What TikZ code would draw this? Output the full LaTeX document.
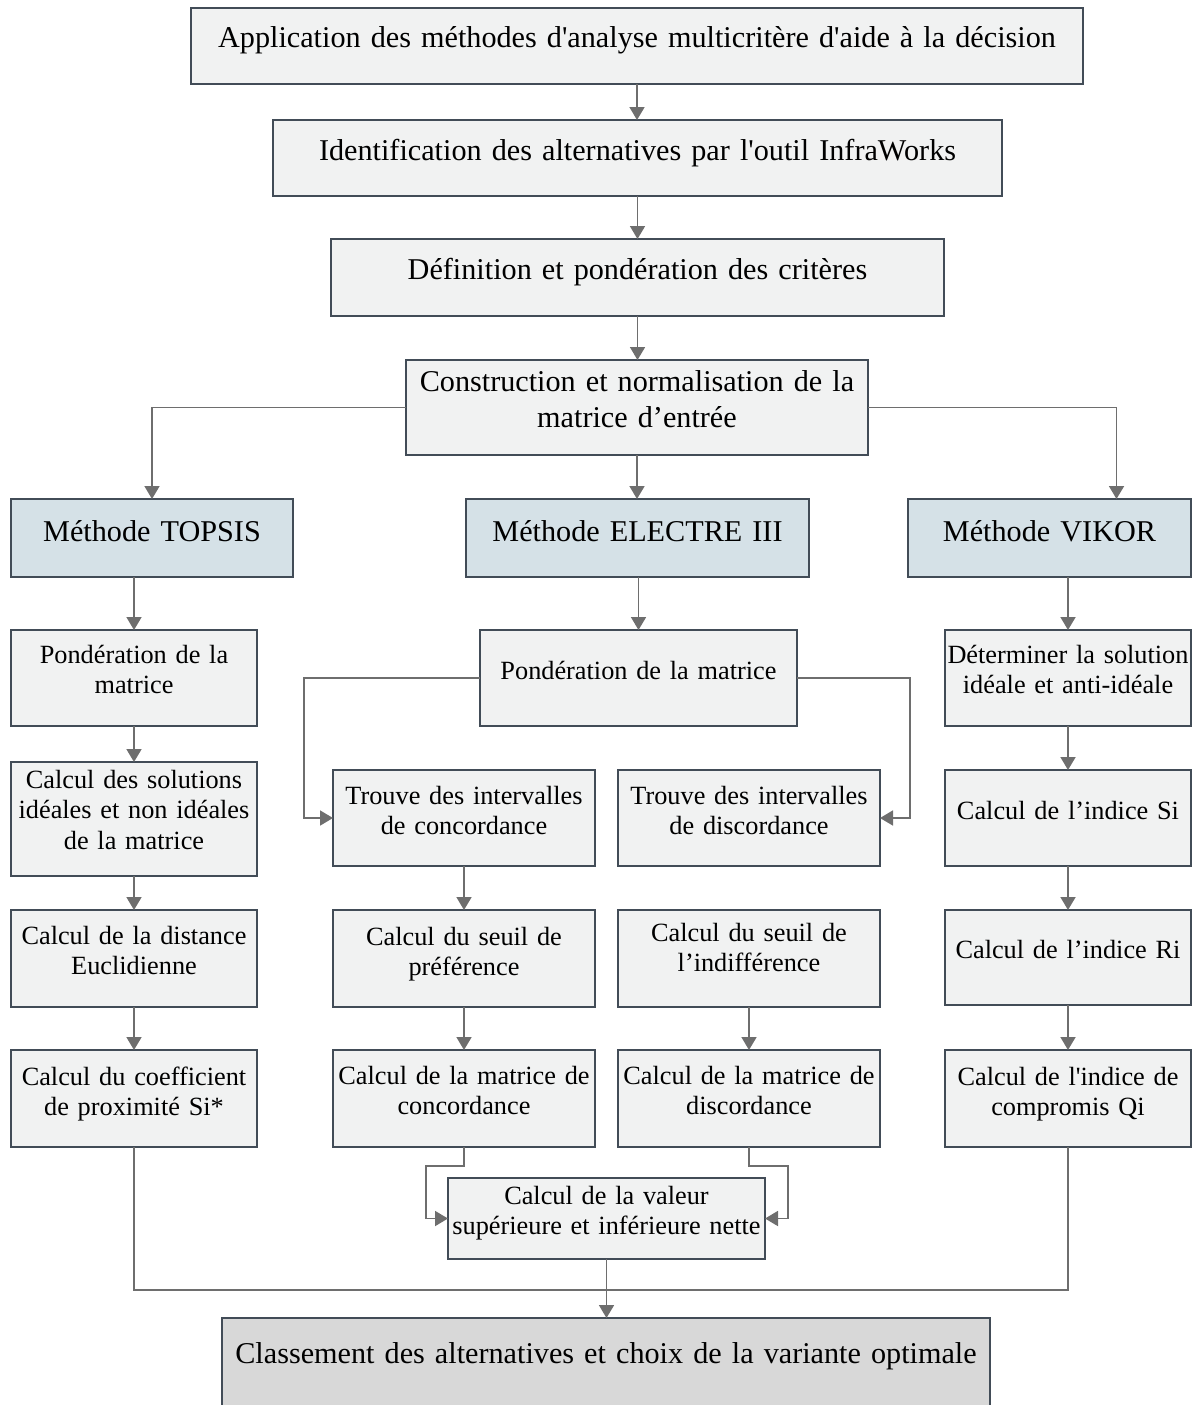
\documentclass[tikz,border=0pt]{standalone}
\usepackage{fontspec}
\setmainfont{Liberation Serif}[Ligatures=TeXOff]
\usetikzlibrary{arrows.meta,calc}

\definecolor{boxline}{HTML}{424C57}
\definecolor{boxfill}{HTML}{F1F2F2}
\definecolor{methfill}{HTML}{D5E1E7}
\definecolor{endfill}{HTML}{D8D8D8}
\definecolor{linkcol}{HTML}{6E6E6E}

\newcommand\bigtxt{\fontsize{30.2}{36.7}\selectfont}
\newcommand\smalltxt{\fontsize{26.3}{30.6}\selectfont}

% \flowbox{name}{style}{x1}{y1}{x2}{y2}{first baseline}{font}{text}
\newcommand\flowbox[9]{%
  \node[#2, minimum width={#5-#3}, minimum height={#6-#4}]
    (#1) at ({(#3+#5)/2},{(#4+#6)/2}) {};
  \node[txt, font=#8, text width={#5-#3+60}]
    (#1-t) at ({(#3+#5)/2},#7) {#9};
}

\tikzset{
  box/.style={draw=boxline, line width=2.8pt, fill=boxfill,
    rectangle, inner sep=0pt, outer sep=0pt},
  methbox/.style={box, fill=methfill},
  endbox/.style={box, fill=endfill},
  txt/.style={anchor=base, align=center, inner sep=0pt, text=black},
  link/.style={draw=linkcol, line width=1.8pt},
  conn/.style={link, -{Triangle[width=15pt,length=13pt]}},
}

\begin{document}
\begin{tikzpicture}[x=1pt,y=-1pt]
\useasboundingbox (0,0) rectangle (1200,1405);

% main sequence
\flowbox{A}{box}{191}{8}{1083}{84}{48}{\bigtxt}{Application des méthodes d'analyse multicritère d'aide à la décision}
\flowbox{B}{box}{273}{120}{1002}{196}{160}{\bigtxt}{Identification des alternatives par l'outil InfraWorks}
\flowbox{C}{box}{331}{239}{944}{316}{279}{\bigtxt}{Définition et pondération des critères}
\flowbox{D}{box}{406}{360}{868}{455}{391}{\bigtxt}{Construction et normalisation de la\\matrice d’entrée}

% methods
\flowbox{TOP}{methbox}{11}{499}{293}{577}{541}{\bigtxt}{Méthode TOPSIS}
\flowbox{ELE}{methbox}{466}{499}{809}{577}{541}{\bigtxt}{Méthode ELECTRE III}
\flowbox{VIK}{methbox}{908}{499}{1191}{577}{541}{\bigtxt}{Méthode VIKOR}

% TOPSIS steps
\flowbox{T1}{box}{11}{630}{257}{726}{663}{\smalltxt}{Pondération de la\\matrice}
\flowbox{T2}{box}{11}{762}{257}{876}{788}{\smalltxt}{Calcul des solutions\\idéales et non idéales\\de la matrice}
\flowbox{T3}{box}{11}{910}{257}{1007}{944}{\smalltxt}{Calcul de la distance\\Euclidienne}
\flowbox{T4}{box}{11}{1050}{257}{1147}{1085}{\smalltxt}{Calcul du coefficient\\de proximité Si*}

% ELECTRE III steps
\flowbox{E1}{box}{480}{630}{797}{726}{679}{\smalltxt}{Pondération de la matrice}
\flowbox{E2}{box}{333}{770}{595}{866}{804}{\smalltxt}{Trouve des intervalles\\de concordance}
\flowbox{E3}{box}{618}{770}{880}{866}{804}{\smalltxt}{Trouve des intervalles\\de discordance}
\flowbox{E4}{box}{333}{910}{595}{1007}{945}{\smalltxt}{Calcul du seuil de\\préférence}
\flowbox{E5}{box}{618}{910}{880}{1007}{941}{\smalltxt}{Calcul du seuil de\\l’indifférence}
\flowbox{E6}{box}{333}{1050}{595}{1147}{1084}{\smalltxt}{Calcul de la matrice de\\concordance}
\flowbox{E7}{box}{618}{1050}{880}{1147}{1084}{\smalltxt}{Calcul de la matrice de\\discordance}
\flowbox{E8}{box}{448}{1178}{765}{1259}{1204}{\smalltxt}{Calcul de la valeur\\supérieure et inférieure nette}

% VIKOR steps
\flowbox{V1}{box}{945}{630}{1191}{726}{663}{\smalltxt}{Déterminer la solution\\idéale et anti-idéale}
\flowbox{V2}{box}{945}{770}{1191}{866}{819}{\smalltxt}{Calcul de l’indice Si}
\flowbox{V3}{box}{945}{910}{1191}{1005}{958}{\smalltxt}{Calcul de l’indice Ri}
\flowbox{V4}{box}{945}{1050}{1191}{1147}{1085}{\smalltxt}{Calcul de l'indice de\\compromis Qi}

% final ranking
\flowbox{F}{endbox}{222}{1318}{990}{1418}{1363}{\bigtxt}{Classement des alternatives et choix de la variante optimale}

% connectors: main sequence
\draw[conn] (A.south) -- (A.south |- B.north);
\draw[conn] (B.south) -- (B.south |- C.north);
\draw[conn] (C.south) -- (C.south |- D.north);
\draw[conn] (D.west) -| (TOP.north);
\draw[conn] (D.south) -- (D.south |- ELE.north);
\draw[conn] (D.east) -| ([xshift=67pt]VIK.north);

% TOPSIS chain
\draw[conn] (T1.north |- TOP.south) -- (T1.north);
\draw[conn] (T1.south) -- (T2.north);
\draw[conn] (T2.south) -- (T3.north);
\draw[conn] (T3.south) -- (T4.north);

% ELECTRE III chain
\draw[conn] (E1.north |- ELE.south) -- (E1.north);
\draw[conn] (E1.west) -- ++(-176,0) |- (E2.west);
\draw[conn] (E1.east) -- ++(113,0) |- (E3.east);
\draw[conn] (E2.south) -- (E4.north);
\draw[conn] (E4.south) -- (E6.north);
\draw[conn] (E5.south) -- (E7.north);
\draw[conn] (E6.south) -- ++(0,19) -- ++(-38,0) |- (E8.west);
\draw[conn] (E7.south) -- ++(0,19) -- ++(39,0) |- (E8.east);

% VIKOR chain
\draw[conn] (V1.north |- VIK.south) -- (V1.north);
\draw[conn] (V1.south) -- (V2.north);
\draw[conn] (V2.south) -- (V3.north);
\draw[conn] (V3.south) -- (V4.north);

% merge into the final ranking
\coordinate (join) at (606,1290);
\draw[link] (T4.south) |- (join);
\draw[link] (V4.south) |- (join);
\draw[conn] (E8.south) -- (E8.south |- F.north);
\end{tikzpicture}
\end{document}
